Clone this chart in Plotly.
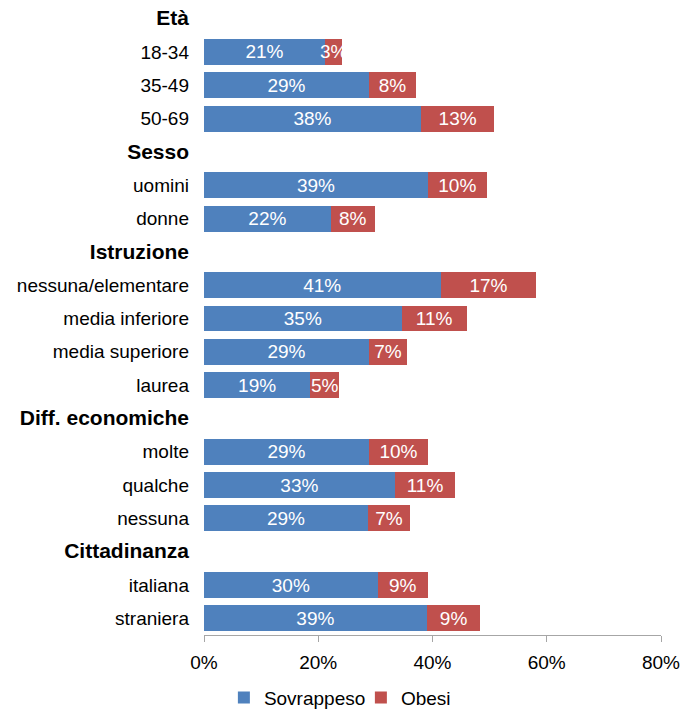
import plotly.graph_objects as go

categories = ["<b>Età</b>", "18-34", "35-49", "50-69",
              "<b>Sesso</b>", "uomini", "donne",
              "<b>Istruzione</b>", "nessuna/elementare", "media inferiore", "media superiore", "laurea",
              "<b>Diff. economiche</b>", "molte", "qualche", "nessuna",
              "<b>Cittadinanza</b>", "italiana", "straniera"]
sovrappeso = [None, 21.2, 28.9, 38.0,
              None, 39.2, 22.2,
              None, 41.4, 34.6, 28.9, 18.6,
              None, 28.9, 33.4, 28.7,
              None, 30.4, 39.0]
obesi = [None, 3.0, 8.2, 12.8,
         None, 10.3, 7.7,
         None, 16.8, 11.4, 6.6, 5.1,
         None, 10.3, 10.6, 7.4,
         None, 8.8, 9.4]
tick_vals = [0, 20, 40, 60, 80]
tick_text = ["0%", "20%", "40%", "60%", "80%"]

rows = list(range(len(categories)))
FONT = "Liberation Sans, Arial, sans-serif"
ticktext_styled = [
    (f'<span style="font-size:21px">{c}</span>' if c.startswith("<b>") else c)
    for c in categories
]

fig = go.Figure()
for name, vals, color in [("Sovrappeso", sovrappeso, "#4F81BD"), ("Obesi", obesi, "#C0504D")]:
    fig.add_trace(go.Bar(
        name=name, y=rows, x=vals, orientation="h",
        marker=dict(color=color, line=dict(width=0)),
        width=0.78,
        texttemplate="%{x:.0f}%", textposition="inside", insidetextanchor="middle",
        textangle=0, constraintext="none", cliponaxis=False,
        textfont=dict(color="white", size=19, family=FONT),
        hoverinfo="skip",
    ))

fig.update_layout(
    barmode="stack",
    width=694, height=709,
    margin=dict(l=204, r=33, t=2, b=74, autoexpand=False),
    paper_bgcolor="white", plot_bgcolor="white",
    font=dict(family=FONT, size=19, color="black"),
    showlegend=True,
    legend=dict(orientation="h", xref="container", yref="container",
                x=0.52, xanchor="center", y=0.016, yanchor="middle",
                font=dict(size=19), traceorder="normal",
                itemwidth=30, entrywidth=92, entrywidthmode="pixels",
                tracegroupgap=0),
    xaxis=dict(range=[0, 80], tickvals=tick_vals, ticktext=tick_text,
               showgrid=False, zeroline=False, showline=True, linecolor="#A6A6A6", linewidth=1,
               ticks="outside", ticklen=6, tickcolor="#A6A6A6",
               ticklabelstandoff=4, tickfont=dict(size=19)),
    yaxis=dict(range=[len(categories) - 0.5, -0.5], tickvals=rows, ticktext=ticktext_styled,
               showgrid=False, zeroline=False, showline=False, ticks="",
               ticklabelstandoff=14, tickfont=dict(size=19)),
)

fig.write_html("out.html")
